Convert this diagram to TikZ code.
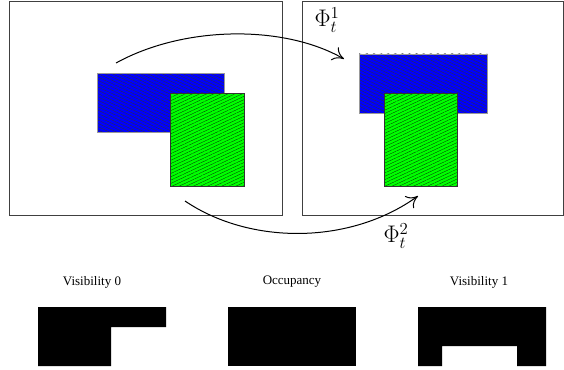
\documentclass[tikz,border=0pt]{standalone}
\usepackage{fix-cm}
\usepackage{fontspec}
\setmainfont{Liberation Serif}
\usetikzlibrary{patterns.meta,arrows.meta}
\tikzset{
  frame/.style={draw=black!75, line width=0.8pt},
  bluebox/.style={preaction={fill=blue},
    pattern={Lines[angle=-25,distance=3pt,line width=0.35pt]}, pattern color=black!80,
    postaction={draw=black!40, line width=0.6pt}},
  greenbox/.style={preaction={fill=green},
    pattern={Lines[angle=25,distance=3pt,line width=0.35pt]}, pattern color=black!75!green,
    postaction={draw=black!80, line width=0.8pt}},
  maparrow/.style={line width=1pt, -{To[length=11pt,width=15pt]}},
  lbl/.style={font=\fontsize{13}{15}\selectfont, inner sep=0pt},
  phi/.style={font=\fontsize{24}{28}\selectfont, inner sep=0pt},
  mask/.style={fill=black, draw=none}
}
\begin{document}
\begin{tikzpicture}[x=1pt,y=-1pt]
\useasboundingbox (0,0) rectangle (564,369);
% frames
\draw[frame] (9,1) rectangle (282,215);
\draw[frame] (302,1) rectangle (563,215);
% left frame shapes
\path[bluebox] (97,73) rectangle (224,132);
\path[greenbox] (170,93) rectangle (244,186);
% right frame shapes
\path[bluebox] (359,54) rectangle (487,113);
\path[greenbox] (384,93) rectangle (457,186);
% arrow endpoints
\coordinate (a1s) at (116,63);
\coordinate (a1e) at (344,59);
\coordinate (a2s) at (185,201);
\coordinate (a2e) at (418,196);
\draw[maparrow] (a1s) .. controls (185,25) and (285,25) .. (a1e);
\draw[maparrow] (a2s) .. controls (250,245) and (350,245) .. (a2e);
\node[phi] (phi1) at (327,20) {$\Phi_t^1$};
\node[phi] (phi2) at (396,236) {$\Phi_t^2$};
% bottom masks
\node[lbl] (v0) at (92,282) {Visibility 0};
\node[lbl] (oc) at (292,282) {Occupancy};
\node[lbl] (v1) at (479,282) {Visibility 1};
\fill[mask] (38,307) -- (166,307) -- (166,327) -- (111,327) -- (111,366) -- (38,366) -- cycle;
\fill[mask] (228,307) rectangle (356,366);
\fill[mask] (418,307) -- (546,307) -- (546,366) -- (517,366) -- (517,346) -- (442,346) -- (442,366) -- (418,366) -- cycle;
\end{tikzpicture}
\end{document}
